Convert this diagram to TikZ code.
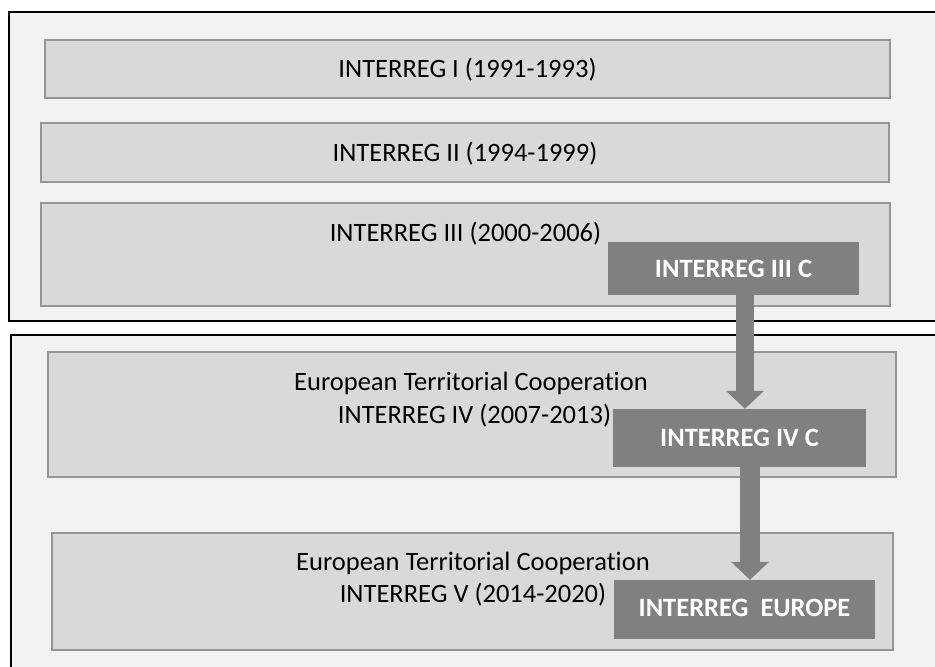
\documentclass[tikz,border=0pt]{standalone}
\usepackage{fontspec}
\setmainfont{Carlito}[Ligatures=NoCommon]
\usetikzlibrary{arrows.meta}
\definecolor{outerfill}{HTML}{F2F2F2}
\definecolor{boxfill}{HTML}{D9D9D9}
\definecolor{boxline}{HTML}{959595}
\definecolor{darkfill}{HTML}{808080}
\begin{document}
\begin{tikzpicture}[x=1pt,y=-1pt,
  panel/.style={draw=black,line width=2.5pt,fill=outerfill},
  era/.style={draw=boxline,line width=1.8pt,fill=boxfill,inner sep=0pt,
    font=\fontsize{26.5}{33}\selectfont,text height=17pt,text depth=0pt},
  lbl/.style={inner sep=0pt,font=\fontsize{26.5}{33}\selectfont,
    text height=17pt,text depth=0pt},
  prog/.style={fill=darkfill,text=white,inner sep=0pt,
    font=\fontsize{26.5}{33}\selectfont\bfseries,text height=17pt,text depth=0pt},
  flow/.style={draw=darkfill,-{Triangle[width=37pt,length=18pt]}}
]
\useasboundingbox (0,0) rectangle (935,667);
\clip (0,0) rectangle (935,667);
\fill[white] (0,0) rectangle (935,667);
% panels
\draw[panel] (9,12) rectangle (950,321);
\draw[panel] (11,335) rectangle (950,690);
% era boxes
\node[era,minimum width=845pt,minimum height=58pt] (b1) at (467.5,69) {INTERREG I (1991-1993)};
\node[era,minimum width=848pt,minimum height=59pt] (b2) at (465,152.5) {INTERREG II (1994-1999)};
\node[era,minimum width=849pt,minimum height=103pt] (b3) at (465.5,254.5) {};
\node[era,minimum width=848pt,minimum height=125pt] (b4) at (472,414.5) {};
\node[era,minimum width=841pt,minimum height=117pt] (b5) at (472.5,591.5) {};
% era texts
\node[lbl] (t3) at (465.5,233) {INTERREG III (2000-2006)};
\node[lbl] (t4a) at (471,381.5) {European Territorial Cooperation};
\node[lbl] (t4b) at (474.5,414.5) {INTERREG IV (2007-2013)};
\node[lbl] (t5a) at (473,562) {European Territorial Cooperation};
\node[lbl] (t5b) at (473,594) {INTERREG V (2014-2020)};
% programme boxes
\node[prog,minimum width=251pt,minimum height=53pt] (c3) at (733.5,268.5) {INTERREG III C};
\node[prog,minimum width=253pt,minimum height=58pt] (c4) at (739.5,438) {INTERREG IV C};
\node[prog,minimum width=261pt,minimum height=59pt,text depth=3pt] (c5) at (744.5,609.5) {INTERREG\ \ EUROPE};
% arrows
\coordinate (a1) at (745,0);
\coordinate (a2) at (750,0);
\draw[flow,line width=18pt] (c3.south -| a1) -- (c4.north -| a1);
\draw[flow,line width=20pt] (c4.south -| a2) -- (c5.north -| a2);
\end{tikzpicture}
\end{document}
